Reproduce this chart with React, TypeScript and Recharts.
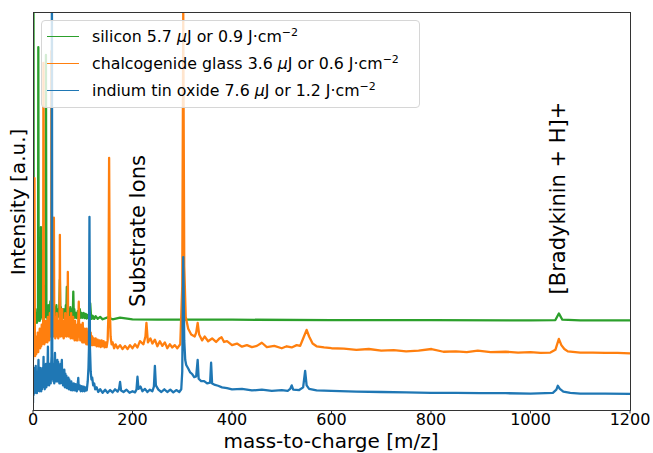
import React from 'react';
import { LineChart, Line, XAxis, YAxis, Legend } from 'recharts';

// spectra: [m/z, intensity (a.u., offset per substrate)]
const silicon: [number, number][] = [
  [0, 20], [0.5, 60], [1, 110], [1.5, 40], [2, 21], [3, 23], [4, 20.5], [5, 24], [6, 21], [7, 22.5],
  [8, 20.5], [9, 23], [10, 21], [10.7, 91], [11.5, 22], [12.5, 24], [13.5, 21], [14.5, 23.5], [15.2, 21.5], [16, 45],
  [16.7, 22], [17.5, 39], [18.3, 22], [19.5, 24], [20.5, 21], [21.5, 23], [22.5, 21.5], [23.5, 24], [24.2, 30], [25, 22],
  [26, 89], [27, 23], [28, 25], [29, 21.5], [30, 24], [31, 22], [32, 25], [33, 21.5], [34, 23.5], [35, 26],
  [36, 22], [37, 24], [38, 21.5], [39, 24], [40, 22], [41, 28.5], [42, 22], [43, 24.5], [44, 21.5], [45, 23.5],
  [46, 22], [47, 25], [48, 21.8], [49, 23], [50, 22], [51, 24], [52, 22.5], [53, 25], [54, 31.5], [55, 23],
  [56, 24.5], [57, 21.8], [58, 23.5], [59, 22], [60, 24], [61, 21.8], [62, 23], [63, 22], [64, 24], [65, 22],
  [66, 25], [67, 23], [68, 29.7], [69, 23], [70, 22], [71, 24], [72, 21.8], [73, 23.5], [74, 22], [75, 24.5],
  [76, 22], [77, 23], [78, 21.8], [79, 24], [80, 22.5], [81, 28.5], [82, 22.5], [83, 24], [84, 21.8], [86, 23],
  [88, 21.7], [90, 23.5], [92, 22], [94, 24], [96, 21.8], [98, 23], [100, 21.8], [102, 23], [104, 21.7], [106, 22.8],
  [108, 21.6], [110, 22.5], [112, 21.7], [113.5, 24], [115, 25.5], [116.5, 22.5], [118, 21.5], [120, 22.3], [123, 21.5], [126, 22.2],
  [130, 21.5], [135, 22], [140, 21.4], [150, 21.9], [160, 21.4], [175, 21.8], [200, 21.4], [250, 21.3], [300, 21.3], [302, 22.5],
  [304, 21.3], [400, 21.3], [600, 21.2], [800, 21.2], [1000, 21.1], [1050, 21.2], [1057, 22.9], [1064, 21.3], [1100, 21.1], [1200, 21.1],
];

const chalcogenide: [number, number][] = [
  [0, 11], [0.7, 13], [1.5, 16], [2.2, 12], [3, 57.5], [3.8, 14], [4.5, 12], [5.5, 17], [6.5, 12.5], [7.5, 16],
  [8.5, 13], [9.5, 18], [10.5, 13], [11.5, 17], [12.5, 14], [13.5, 19], [14.5, 14], [15.5, 17], [16.5, 14.5], [17.5, 20],
  [18.5, 15], [19.5, 18], [20.3, 16], [21, 87], [21.8, 17], [22.8, 15], [23.8, 19], [24.8, 15.5], [25.8, 21], [26.8, 16],
  [27.8, 19], [28.8, 15.5], [29.8, 22], [30.8, 16.5], [31.8, 20], [32.8, 16], [33.8, 23], [34.8, 17], [35.8, 20], [36.5, 18],
  [37, 90], [37.6, 19], [38.5, 17], [39.5, 22], [40.5, 17], [41.3, 21], [42, 47.4], [42.8, 18], [43.8, 21], [44.8, 16.5],
  [45.8, 22], [46.8, 17.5], [47.8, 23], [48.8, 17], [49.8, 21], [50.8, 16.5], [51.8, 20], [52.8, 17], [53.5, 24], [54, 43],
  [54.7, 20], [55.7, 17], [56.7, 22], [57.7, 17.5], [58.7, 24], [59.7, 17], [60.7, 21], [61.7, 16.5], [62.7, 20], [63.7, 17],
  [64.7, 23], [65.7, 17.5], [66.7, 21], [67.7, 17], [68.7, 22], [69.4, 20], [70, 33.5], [70.7, 19], [71.7, 17], [72.7, 22],
  [73.7, 17], [74.7, 21], [75.7, 16.5], [76.7, 23], [77.7, 17], [78.7, 20], [79.7, 16.5], [80.7, 22], [81.7, 16.5], [82.7, 20],
  [83.7, 16], [84.7, 21], [85.7, 16.5], [86.7, 19], [87.7, 16], [88.7, 20], [89.7, 16], [91, 21], [92, 25.9], [93, 17],
  [94, 19.5], [95, 16], [96, 20], [97, 16], [98, 19], [99, 15.5], [100, 20.5], [101, 15.5], [102, 18.5], [103, 15.5],
  [104, 19], [105, 15.5], [106, 18], [107, 15], [108, 19], [109, 15], [110, 17.5], [111.5, 15], [113, 19], [114.5, 15.5],
  [116, 18], [117.5, 14.8], [119, 17], [120.5, 14.8], [122, 16.5], [124, 14.8], [126, 16.5], [128, 14.5], [130, 16.2], [132, 14.5],
  [134, 16], [136, 14.3], [138, 16], [140, 14.5], [142, 15.8], [144, 14.2], [146, 15.5], [148, 14.3], [150, 16], [151.5, 22],
  [153, 62.7], [154.5, 24], [156, 17], [158, 15], [160, 15.5], [163, 14], [166, 15], [170, 14], [175, 14.8], [180, 13.8],
  [185, 14.6], [190, 13.8], [195, 14.8], [200, 14], [205, 15], [210, 14.2], [215, 15.8], [222, 15], [226, 17], [228, 20.5],
  [231, 15.5], [236, 16.5], [240, 15.2], [245, 16.2], [250, 14.5], [255, 15.8], [260, 14.6], [265, 15.5], [270, 14], [275, 15],
  [280, 14.2], [285, 14.8], [290, 14], [296, 15], [300, 30], [302, 100], [304, 35], [307, 22], [312, 19], [318, 17.5],
  [325, 17], [328, 18], [331, 20.5], [334, 17.5], [340, 16], [345, 17], [352, 15.8], [360, 16.5], [368, 15.6], [374, 16.4],
  [379, 16.8], [384, 15.6], [390, 15.8], [400, 14.8], [410, 15.2], [420, 14.4], [430, 14.8], [440, 14.3], [450, 14.6], [460, 15.4],
  [470, 14.3], [485, 14.6], [500, 14], [510, 14.5], [520, 14.2], [530, 14.8], [537, 14.6], [543, 16.5], [550, 18.7], [555, 17],
  [562, 15.2], [570, 14.5], [585, 14.2], [600, 14], [625, 13.9], [650, 13.6], [675, 13.8], [700, 13.4], [725, 13.5], [750, 13.2],
  [775, 13.4], [801, 13.8], [825, 13.1], [850, 13.2], [872, 13], [894, 13.4], [920, 13], [950, 13.1], [975, 12.9], [1000, 13],
  [1020, 12.8], [1040, 12.9], [1050, 13.6], [1057, 16.4], [1062, 14.8], [1068, 13.8], [1075, 13.2], [1100, 12.9], [1125, 12.9], [1150, 12.8],
  [1175, 12.8], [1200, 12.7],
];

const ito: [number, number][] = [
  [0, 0], [0.5, 8], [1, 2], [1.5, 9], [2, 3], [2.7, 7], [3.4, 2.5], [4.1, 8], [4.8, 3], [5.5, 9.5],
  [6.2, 3], [7, 7.5], [7.8, 2.5], [8.6, 8], [9.4, 3], [10.2, 7], [11, 11], [11.8, 3.5], [12.6, 8], [13.4, 3],
  [14.2, 9], [15, 3.5], [15.8, 7.5], [16.6, 3], [17.4, 8.5], [18.2, 3.5], [19, 9], [19.8, 4], [20.6, 8], [21.2, 11.8],
  [22, 4], [22.8, 8.5], [23.6, 3.5], [24.4, 9], [25.2, 4], [26, 10], [26.8, 4], [27.6, 8], [28.4, 4.5], [29.2, 9.5],
  [30, 14.4], [30.8, 5], [31.6, 9], [32.4, 4.5], [33.2, 10], [34, 5], [34.8, 9], [35.6, 5], [36.4, 9.5], [37.3, 12],
  [38, 110], [38.7, 10], [39.5, 6], [40.3, 10], [41.1, 5.5], [41.9, 9.5], [42.7, 5], [43.5, 10], [44.2, 12.8], [45, 6],
  [45.8, 10.5], [46.6, 5.5], [47.4, 10], [48.2, 5.5], [49, 11], [49.8, 6], [50.6, 10.5], [51.4, 5.5], [52.2, 9.5], [53, 5],
  [53.8, 9], [54.6, 5], [55.4, 10], [56.2, 5.5], [57, 9.5], [58, 11], [58.8, 5], [59.6, 8.5], [60.4, 4.5], [61.2, 8],
  [62, 4.5], [63, 8.5], [64, 4], [65, 7.5], [66, 4], [67, 7], [68, 3.8], [69, 6.5], [70, 3.8], [71, 6.5],
  [72, 3.5], [73, 6], [74, 3.5], [75, 5.5], [76, 3.3], [77, 5.5], [78, 3.3], [79, 5], [80, 3.2], [82, 5],
  [84, 3.2], [86, 4.8], [88, 3], [90, 5], [91, 6.4], [92, 3.5], [94, 4.5], [96, 3], [98, 4.3], [100, 3],
  [102, 4.2], [104, 3], [106, 4], [108, 3.2], [110, 5.5], [111.5, 9], [112.5, 14], [113.5, 47.6], [114.5, 14], [116, 8],
  [117.5, 6], [119, 6.5], [121, 4.5], [123, 5], [125, 3.5], [128, 4], [131, 2.8], [135, 3.5], [140, 2.6], [145, 3.4],
  [150, 2.6], [155, 3.3], [160, 2.7], [165, 3.5], [170, 2.9], [173, 3.6], [175, 5.4], [177, 3.2], [182, 2.8], [188, 3.4],
  [194, 2.6], [200, 3], [205, 2.7], [208, 3.4], [210, 6.7], [212, 3.6], [216, 4.2], [220, 3], [225, 3.6], [230, 2.8],
  [235, 3.4], [240, 3], [243, 4.2], [245, 9.5], [247, 4.5], [252, 3.4], [258, 2.8], [264, 3.5], [270, 2.8], [276, 3.4],
  [282, 2.7], [288, 3.3], [294, 2.8], [298, 3.5], [300, 8], [302, 37.3], [304, 16], [306, 11], [308, 9.7], [312, 8.8],
  [316, 7.8], [320, 7.4], [324, 6.6], [328, 6.8], [331, 11], [333, 6.2], [338, 5.6], [344, 5.6], [350, 5], [356, 5.2],
  [358, 10.3], [360, 5], [366, 4.6], [372, 4.4], [380, 4], [390, 3.8], [400, 3.5], [420, 3.6], [440, 3.2], [460, 3.4],
  [480, 3.1], [500, 3.3], [512, 3.1], [517, 3.6], [520, 4.5], [523, 3.4], [535, 3.3], [543, 4], [547, 8.2], [550, 4.5],
  [555, 3.6], [570, 3.2], [600, 3.1], [650, 2.9], [700, 2.8], [750, 2.7], [800, 2.6], [850, 2.6], [900, 2.5], [950, 2.5],
  [1000, 2.4], [1045, 2.6], [1052, 3.4], [1055, 4.4], [1059, 3.6], [1066, 2.9], [1080, 2.6], [1100, 2.4], [1150, 2.4], [1200, 2.3],
];

const xTicks = [0, 200, 400, 600, 800, 1000, 1200];

const series = [
  { name: 'silicon', energy: '5.7', fluence: '0.9', color: '#2ca02c', points: silicon },
  { name: 'chalcogenide glass', energy: '3.6', fluence: '0.6', color: '#ff7f0e', points: chalcogenide },
  { name: 'indium tin oxide', energy: '7.6', fluence: '1.2', color: '#1f77b4', points: ito },
];

const FONT = '"DejaVu Sans", sans-serif';

const LegendBox = () => (
  <div
    style={{
      position: 'relative',
      width: 377,
      height: 86,
      background: 'rgba(255,255,255,0.8)',
      border: '1px solid #d6d6d6',
      borderRadius: 4,
      fontFamily: FONT,
      fontSize: 15.8,
      color: '#000',
    }}
  >
    {series.map((s, i) => (
      <div key={s.name} style={{ position: 'absolute', left: 5, top: 5 + i * 27, height: 20, display: 'flex', alignItems: 'center' }}>
        <span style={{ display: 'inline-block', width: 32, height: 0, borderTop: `1.5px solid ${s.color}` }} />
        <span style={{ marginLeft: 13, whiteSpace: 'nowrap' }}>
          {s.name} {s.energy} <i>μ</i>J or {s.fluence} J·cm<sup style={{ fontSize: 11, verticalAlign: 6 }}>−2</sup>
        </span>
      </div>
    ))}
  </div>
);

const rotated = (text: string, x: number, y: number, size: number) => (
  <div
    style={{
      position: 'absolute',
      left: x,
      top: y,
      transform: 'translate(-50%, -50%) rotate(-90deg)',
      whiteSpace: 'nowrap',
      fontFamily: FONT,
      fontSize: size,
      lineHeight: 1,
    }}
  >
    {text}
  </div>
);

export default function App() {
  return (
    <div style={{ position: 'absolute', left: 0, top: 0, width: 653, height: 453, background: '#fff', fontFamily: FONT }}>
      <LineChart width={653} height={453} margin={{ top: 12, right: 23, bottom: 13, left: 33 }}>
        <XAxis
          dataKey="x"
          type="number"
          domain={[0, 1200]}
          ticks={xTicks}
          allowDataOverflow
          axisLine={false}
          tickLine={{ stroke: '#333' }}
          tickSize={3.5}
          tickMargin={0.5}
          height={30}
          tick={{ fontSize: 16, fill: '#000', fontFamily: FONT }}
        />
        <YAxis type="number" domain={[-1.8, 100]} allowDataOverflow hide />
        {series.map((s) => (
          <Line
            key={s.name}
            data={s.points.map(([x, y]) => ({ x, y }))}
            dataKey="y"
            name={s.name}
            type="linear"
            stroke={s.color}
            strokeWidth={2.3}
            strokeLinejoin="round"
            dot={false}
            isAnimationActive={false}
          />
        ))}
        <Legend
          layout="vertical"
          align="center"
          verticalAlign="middle"
          content={() => <LegendBox />}
          wrapperStyle={{ left: 41, top: 20, width: 'auto' }}
        />
      </LineChart>
      {/* axes frame */}
      <div style={{ position: 'absolute', left: 33, top: 12, width: 598, height: 399, border: '1px solid #333', boxSizing: 'border-box', pointerEvents: 'none' }} />
      {rotated('Intensity [a.u.]', 18, 202, 20)}
      {rotated('Substrate Ions', 138, 231, 21)}
      {rotated('[Bradykinin + H]+', 558, 198, 21)}
      <div style={{ position: 'absolute', left: 331, top: 441, transform: 'translate(-50%, -50%)', whiteSpace: 'nowrap', fontSize: 20, lineHeight: 1 }}>
        mass-to-charge [m/z]
      </div>
    </div>
  );
}
